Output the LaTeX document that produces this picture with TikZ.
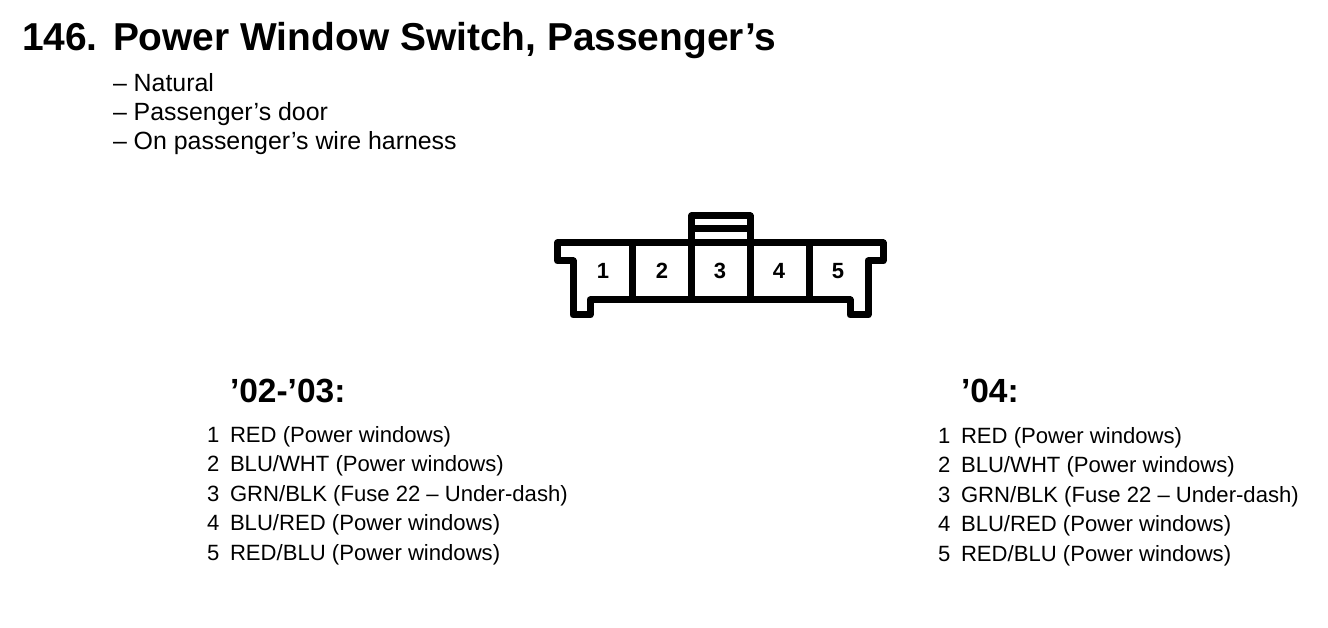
\documentclass[tikz,border=0pt]{standalone}
\usepackage{fontspec}
\setmainfont{Liberation Sans}
\tikzset{
  txt/.style={anchor=base west,inner sep=0pt,outer sep=0pt,font=\fontsize{24.9}{28}\selectfont},
  rowtxt/.style={anchor=base west,inner sep=0pt,outer sep=0pt,font=\fontsize{22.1}{25}\selectfont},
  titletxt/.style={anchor=base west,inner sep=0pt,outer sep=0pt,font=\bfseries\fontsize{38.9}{44}\selectfont},
  headtxt/.style={anchor=base west,inner sep=0pt,outer sep=0pt,font=\bfseries\fontsize{33.5}{38}\selectfont},
  pin/.style={anchor=center,inner sep=0pt,font=\bfseries\fontsize{22}{25}\selectfont},
  wall/.style={draw=black,line width=7pt,line join=round,line cap=round},
  divider/.style={draw=black,line width=7pt,line cap=butt}
}
\begin{document}
\begin{tikzpicture}[x=1pt,y=-1pt]
\useasboundingbox (0,0) rectangle (1328,628);
\fill[white] (0,0) rectangle (1328,628);
\node[titletxt] (num) at (22,51) {146.};
\node[titletxt] (title) at (113,51) {Power Window Switch, Passenger’s};
\node[txt] (d1) at (113,92) {– Natural};
\node[txt] (d2) at (113,121) {– Passenger’s door};
\node[txt] (d3) at (113,150) {– On passenger’s wire harness};
% connector
\draw[wall] (557.5,243) -- (883,243) -- (883,261) -- (868,261) -- (868,315) -- (850,315) -- (850,300) -- (590,300) -- (590,315) -- (573,315) -- (573,261) -- (557.5,261) -- cycle;
\draw[wall] (691.5,243) -- (691.5,216) -- (750,216) -- (750,243);
\draw[divider] (691.5,229) -- (750,229);
\draw[divider] (632.5,243) -- (632.5,300);
\draw[divider] (691.5,243) -- (691.5,300);
\draw[divider] (750,243) -- (750,300);
\draw[divider] (809,243) -- (809,300);
\node[pin] (p1) at (603,271) {1};
\node[pin] (p2) at (662,271) {2};
\node[pin] (p3) at (720,271) {3};
\node[pin] (p4) at (779,271) {4};
\node[pin] (p5) at (838,271) {5};
% left
\node[headtxt] (hl) at (230,402.5) {’02-’03:};
\foreach \n/\y/\t in {1/442.5/{RED (Power windows)},2/471.5/{BLU/WHT (Power windows)},3/501.5/{GRN/BLK (Fuse 22 – Under-dash)},4/530.5/{BLU/RED (Power windows)},5/560.5/{RED/BLU (Power windows)}}{
  \node[rowtxt] (ln\n) at (207,\y) {\n};
  \node[rowtxt] (lt\n) at (230,\y) {\t};
}
% right
\node[headtxt] (hr) at (961,402.5) {’04:};
\foreach \n/\y/\t in {1/443.5/{RED (Power windows)},2/472.5/{BLU/WHT (Power windows)},3/502.5/{GRN/BLK (Fuse 22 – Under-dash)},4/531.5/{BLU/RED (Power windows)},5/561.5/{RED/BLU (Power windows)}}{
  \node[rowtxt] (rn\n) at (938,\y) {\n};
  \node[rowtxt] (rt\n) at (961,\y) {\t};
}
\end{tikzpicture}
\end{document}
